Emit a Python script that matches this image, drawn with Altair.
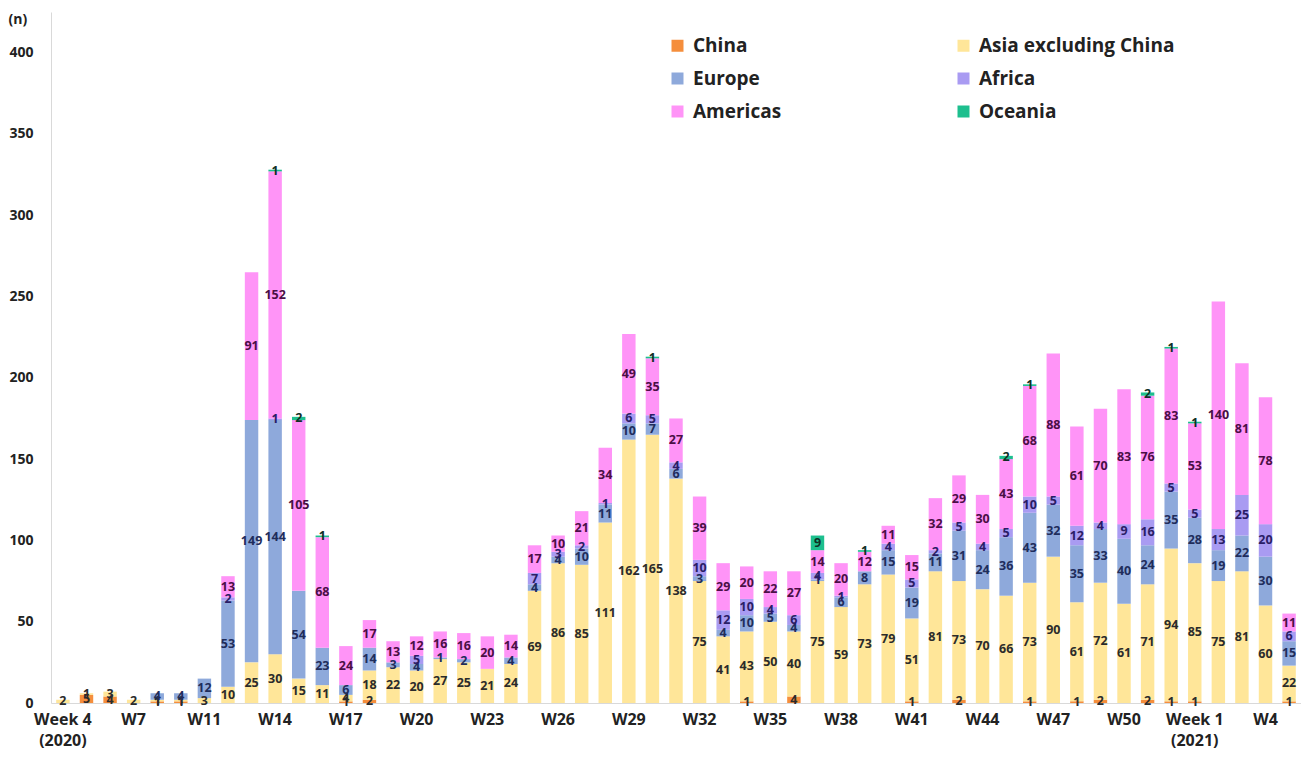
import json
import altair as alt
import pandas as pd

# ---- data ----
regions = ["China", "Asia excluding China", "Europe", "Africa", "Americas", "Oceania"]
colors = ["#F58E3C", "#FFE699", "#8EA9DB", "#A99BF2", "#FF94F7", "#1DBF8E"]
label_colors = ["#2b2b2b", "#2b2b2b", "#1f2d5c", "#2a1d66", "#4a0f45", "#0f2f25"]
legend_order = ["China", "Europe", "Americas", "Asia excluding China", "Africa", "Oceania"]

weeks = list(range(53))  # bar index, Week 4 (2020) ... Week 4 (2021)

china = [0, 5, 4, 0, 1, 1, 0, 0, 0, 0, 0, 0, 1, 2, 0, 0, 0, 0, 0, 0,
         0, 0, 0, 0, 0, 0, 0, 0, 0, 1, 0, 4, 0, 0, 0, 0, 1, 0, 2, 0,
         0, 1, 0, 1, 2, 0, 2, 1, 1, 0, 0, 0, 1]
asia = [2, 1, 3, 2, 1, 1, 3, 10, 25, 30, 15, 11, 4, 18, 22, 20, 27, 25, 21, 24,
        69, 86, 85, 111, 162, 165, 138, 75, 41, 43, 50, 40, 75, 59, 73, 79, 51, 81, 73, 70,
        66, 73, 90, 61, 72, 61, 71, 94, 85, 75, 81, 60, 22]
europe = [0, 0, 0, 0, 4, 4, 12, 53, 149, 144, 54, 23, 6, 14, 3, 4, 1, 2, 0, 4,
          4, 4, 10, 11, 10, 7, 6, 3, 4, 10, 5, 4, 1, 6, 8, 15, 19, 11, 31, 24,
          36, 43, 32, 35, 33, 40, 24, 35, 28, 19, 22, 30, 15]
africa = [0, 0, 0, 0, 0, 0, 0, 2, 0, 1, 0, 0, 0, 0, 0, 5, 0, 0, 0, 0,
          7, 3, 2, 1, 6, 5, 4, 10, 12, 10, 4, 6, 4, 1, 0, 4, 5, 2, 5, 4,
          5, 10, 5, 12, 4, 9, 16, 5, 5, 13, 25, 20, 6]
americas = [0, 0, 0, 0, 0, 0, 0, 13, 91, 152, 105, 68, 24, 17, 13, 12, 16, 16, 20, 14,
            17, 10, 21, 34, 49, 35, 27, 39, 29, 20, 22, 27, 14, 20, 12, 11, 15, 32, 29, 30,
            43, 68, 88, 61, 70, 83, 76, 83, 53, 140, 81, 78, 11]
oceania = [0, 0, 0, 0, 0, 0, 0, 0, 0, 1, 2, 1, 0, 0, 0, 0, 0, 0, 0, 0,
           0, 0, 0, 0, 0, 1, 0, 0, 0, 0, 0, 0, 9, 0, 1, 0, 0, 0, 0, 0,
           2, 1, 0, 0, 0, 0, 2, 1, 1, 0, 0, 0, 0]

tick_pos = [0, 3, 6, 9, 12, 15, 18, 21, 24, 27, 30, 33, 36, 39, 42, 45, 48, 51]
tick_text = [["Week 4", "(2020)"], "W7", "W11", "W14", "W17", "W20", "W23", "W26",
             "W29", "W32", "W35", "W38", "W41", "W44", "W47", "W50",
             ["Week 1", "(2021)"], "W4"]
y_ticks = [0, 50, 100, 150, 200, 250, 300, 350, 400]

# ---- long table ----
series = [china, asia, europe, africa, americas, oceania]
rows = []
for k, (reg, vals) in enumerate(zip(regions, series)):
    for i, v in zip(weeks, vals):
        rows.append({"i": i, "region": reg, "n": v, "ord": k, "lc": label_colors[k]})
df = pd.DataFrame(rows)

label_expr = " : ".join(
    f"datum.value == {p} ? {json.dumps(t)}" for p, t in zip(tick_pos, tick_text)
) + " : ''"

FONT = "Open Sans"

base = (
    alt.Chart(df)
    .transform_filter("datum.n > 0")
    .transform_stack(
        stack="n", groupby=["i"], as_=["y0", "y1"],
        sort=[alt.SortField("ord", order="ascending")],
    )
    .transform_calculate(mid="(datum.y0 + datum.y1) / 2")
)

x_enc = alt.X(
    "i:O",
    scale=alt.Scale(paddingInner=0.43, paddingOuter=0.22),
    axis=alt.Axis(
        values=tick_pos, labelExpr=label_expr, labelAngle=0, title=None,
        ticks=False, domainColor="#d9d9d9", labelPadding=8,
        labelFontSize=16, labelFontWeight="bold", labelColor="#222222",
        labelLineHeight=21, labelFont=FONT,
    ),
)

y_scale = alt.Scale(domain=[0, 425], nice=False)

bars = base.mark_bar().encode(
    x=x_enc,
    y=alt.Y(
        "y0:Q", scale=y_scale,
        axis=alt.Axis(
            values=y_ticks, ticks=False, grid=False, domainColor="#d9d9d9",
            labelPadding=18, labelFontSize=14, labelFontWeight="bold",
            labelColor="#222222", labelFont=FONT,
            title="(n)", titleAngle=0, titleAlign="left", titleBaseline="middle",
            titleX=-43, titleY=7, titleFontSize=14, titleFontWeight="bold",
            titleColor="#222222", titleFont=FONT,
        ),
    ),
    y2="y1:Q",
    color=alt.Color(
        "region:N",
        scale=alt.Scale(domain=regions, range=colors),
        legend=alt.Legend(
            title=None, orient="none", legendX=617, legendY=24, columns=2,
            values=legend_order,
            columnPadding=172, rowPadding=13, symbolType="square",
            symbolSize=144, symbolStrokeWidth=0, labelFontSize=19,
            labelFontWeight="bold", labelFont=FONT, labelColor="#222222",
            labelOffset=6, labelLimit=400,
        ),
    ),
)

text = base.mark_text(
    font=FONT, fontSize=12.5, fontWeight="bold", baseline="middle", align="center"
).encode(
    x=x_enc,
    y=alt.Y("mid:Q", scale=y_scale),
    text=alt.Text("n:Q"),
    color=alt.Color("lc:N", scale=None),
)

chart = (
    alt.layer(bars, text)
    .properties(width=1250, height=691,
                padding={"left": 0, "top": 4, "right": 0, "bottom": 2})
    .configure_view(stroke=None)
)

chart.save("out.html", embed_options={"renderer": "svg", "actions": False})
